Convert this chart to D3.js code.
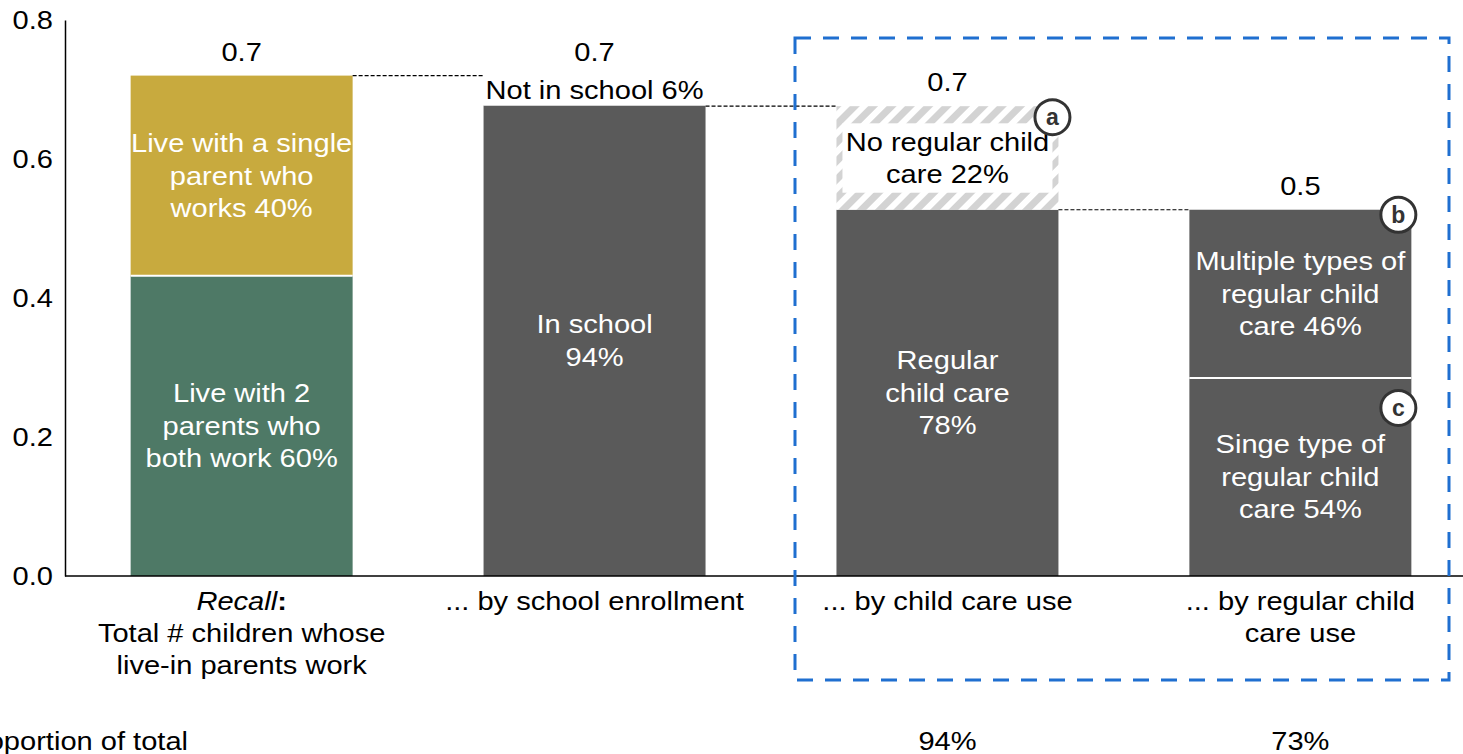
<!DOCTYPE html>
<html>
<head>
<meta charset="utf-8">
<script src="https://cdn.jsdelivr.net/npm/d3@7"></script>
<style>
  html, body { margin: 0; padding: 0; background: #fff; }
  svg { display: block; font-family: "Liberation Sans", Arial, sans-serif; }
</style>
</head>
<body>
<svg id="chart" width="1463" height="754"></svg>
<script>
// Category labels (multi-line) under each bar
const categories = ["recall", "school", "care", "regular"];
const categoryLines = [
  ["<i>Recall</i><b>:</b>", "Total # children whose", "live-in parents work"],
  ["... by school enrollment"],
  ["... by child care use"],
  ["... by regular child", "care use"]
];

// Stacked segment values (bottom segment first)
const bottomValues = [0.432, 0.677, 0.527, 0.285];
const topValues    = [0.288, 0.043, 0.149, 0.242];

// Segment styles: "green", "gold", "gray", "hidden", "hatch"
const bottomKinds = ["green", "gray", "gray", "gray"];
const topKinds    = ["gold", "hidden", "hatch", "gray"];

const bottomLabels = [
  ["Live with 2", "parents who", "both work 60%"],
  ["In school", "94%"],
  ["Regular", "child care", "78%"],
  ["Singe type of", "regular child", "care 54%"]
];
const topLabels = [
  ["Live with a single", "parent who", "works 40%"],
  ["Not in school 6%"],
  ["No regular child", "care 22%"],
  ["Multiple types of", "regular child", "care 46%"]
];

// Proportion-of-total row
const proportionLabels = ["", "", "94%", "73%"];
const yTicks = [0, 0.2, 0.4, 0.6, 0.8];

const colors = { green: "#4e7966", gold: "#c8aa3e", gray: "#5a5a5a" };

const FS = 25.5;      // font size
const SX = 1.14;      // horizontal glyph stretch
const LH = 32.5;      // line height

const svg = d3.select("#chart");
const W = 1463;

const x = d3.scaleBand()
  .domain(categories)
  .range([65, 1477])
  .paddingInner(0.371)
  .paddingOuter(0.186);

const y = d3.scaleLinear().domain([0, 0.8]).range([576, 20]);

// hatch pattern
const defs = svg.append("defs");
const pat = defs.append("pattern")
  .attr("id", "hatch")
  .attr("patternUnits", "userSpaceOnUse")
  .attr("width", 13).attr("height", 13)
  .attr("patternTransform", "rotate(45)");
pat.append("rect").attr("width", 13).attr("height", 13).attr("fill", "#fff");
pat.append("rect").attr("width", 7).attr("height", 13).attr("fill", "#d3d3d3");

const totals = bottomValues.map((v, i) => v + topValues[i]);

// stretched text group anchored at (cx, cy)
function textGroup(parent, cx, cy) {
  return parent.append("g").attr("transform", `translate(${cx},${cy}) scale(${SX},1)`);
}

// multi-line centred text; returns {group, text}
function lines(parent, arr, cx, cy, color, anchor = "middle") {
  const grp = textGroup(parent, cx, cy);
  const n = arr.length;
  const txt = grp.append("text")
    .attr("text-anchor", anchor)
    .attr("font-size", FS)
    .attr("fill", color);
  arr.forEach((s, k) => {
    txt.append("tspan")
      .attr("x", 0)
      .attr("y", (k - (n - 1) / 2) * LH)
      .attr("dy", "0.35em")
      .text(s);
  });
  return { grp, txt };
}

// bars
const g = svg.append("g");
categories.forEach((c, i) => {
  const x0 = x(c), bw = x.bandwidth();
  const b = bottomValues[i], t = topValues[i];
  g.append("rect")
    .attr("x", x0).attr("width", bw)
    .attr("y", y(b)).attr("height", y(0) - y(b))
    .attr("fill", colors[bottomKinds[i]]);
  const tk = topKinds[i];
  if (tk !== "hidden") {
    g.append("rect")
      .attr("x", x0).attr("width", bw)
      .attr("y", y(b + t)).attr("height", y(b) - y(b + t))
      .attr("fill", tk === "hatch" ? "url(#hatch)" : colors[tk]);
    if (tk !== "hatch") {
      g.append("line")
        .attr("x1", x0).attr("x2", x0 + bw)
        .attr("y1", y(b)).attr("y2", y(b))
        .attr("stroke", "#fff").attr("stroke-width", 2);
    }
  }
});

// dashed connectors between consecutive bars
for (let i = 0; i < categories.length - 1; i++) {
  const yy = y(i === 0 ? totals[0] : totals[i + 1]);
  g.append("line")
    .attr("x1", x(categories[i]) + x.bandwidth())
    .attr("x2", x(categories[i + 1]))
    .attr("y1", yy).attr("y2", yy)
    .attr("stroke", "#000").attr("stroke-width", 1.2)
    .attr("stroke-dasharray", "4,2");
}

// segment labels
categories.forEach((c, i) => {
  const cx = x(c) + x.bandwidth() / 2;
  const b = bottomValues[i], t = topValues[i];
  lines(g, bottomLabels[i], cx, (y(0) + y(b)) / 2, "#fff");
  const tk = topKinds[i];
  const cyTop = (y(b) + y(b + t)) / 2;
  if (tk === "hidden" || tk === "hatch") {
    const { grp, txt } = lines(g, topLabels[i], cx, cyTop, "#000");
    const bb = txt.node().getBBox();
    const halfIn = (x.bandwidth() / 2 - (tk === "hatch" ? 6 : 0)) / SX;
    const left = tk === "hatch" ? Math.max(bb.x - 3, -halfIn) : -halfIn;
    const right = tk === "hatch" ? Math.min(bb.x + bb.width + 3, halfIn) : halfIn;
    const top = tk === "hatch" ? bb.y - 4 : bb.y;
    const bottom = tk === "hatch" ? bb.y + bb.height + 4 : y(b) - cyTop;
    grp.insert("rect", "text")
      .attr("x", left).attr("width", right - left)
      .attr("y", top).attr("height", bottom - top)
      .attr("fill", "#fff");
  } else {
    lines(g, topLabels[i], cx, cyTop, "#fff");
  }
  // total value above bar
  lines(g, [d3.format(".1f")(totals[i])], cx, y(totals[i]) - 24, "#000");
});

// axes
const yAxis = d3.axisLeft(y).tickValues(yTicks).tickSize(0).tickPadding(12)
  .tickFormat(d3.format(".1f"));
const ya = svg.append("g").attr("transform", "translate(65,0)").call(yAxis);
ya.select(".domain").attr("stroke", "#000").attr("stroke-width", 1.5);
ya.selectAll(".tick text")
  .attr("font-size", FS).attr("fill", "#000")
  .attr("font-family", "Liberation Sans, Arial, sans-serif")
  .attr("x", -12 / SX)
  .attr("transform", `scale(${SX},1)`);

svg.append("line")
  .attr("x1", 65).attr("x2", W)
  .attr("y1", y(0)).attr("y2", y(0))
  .attr("stroke", "#000").attr("stroke-width", 1.5);

// category labels
categories.forEach((c, i) => {
  const cx = x(c) + x.bandwidth() / 2;
  const grp = textGroup(svg, cx, 601);
  const txt = grp.append("text").attr("text-anchor", "middle")
    .attr("font-size", FS).attr("fill", "#000");
  categoryLines[i].forEach((s, k) => {
    const ts = txt.append("tspan").attr("x", 0).attr("y", k * 32).attr("dy", "0.35em");
    if (s.startsWith("<i>")) {
      ts.append("tspan").attr("font-style", "italic").text("Recall");
      ts.append("tspan").attr("font-weight", "bold").text(":");
    } else {
      ts.text(s);
    }
  });
});

// proportion row
lines(svg, ["Proportion of total"], 188, 741, "#000", "end");
categories.forEach((c, i) => {
  if (!proportionLabels[i]) return;
  lines(svg, [proportionLabels[i]], x(c) + x.bandwidth() / 2, 741, "#000");
});

// highlight box around the child care breakdown
svg.append("rect")
  .attr("x", 795).attr("y", 38)
  .attr("width", 654).attr("height", 642)
  .attr("fill", "none")
  .attr("stroke", "#1f6fd0").attr("stroke-width", 3)
  .attr("stroke-dasharray", "16,12");

// lettered callouts
const callouts = [
  { letter: "a", cat: "care", level: 1, dx: -6, dy: 11 },
  { letter: "b", cat: "regular", level: 1, dx: -13, dy: 5 },
  { letter: "c", cat: "regular", level: 0, dx: -13, dy: 30 }
];
callouts.forEach(o => {
  const i = categories.indexOf(o.cat);
  const lvl = o.level === 1 ? totals[i] : bottomValues[i];
  const cx = x(o.cat) + x.bandwidth() + o.dx;
  const cy = y(lvl) + o.dy;
  svg.append("circle").attr("cx", cx).attr("cy", cy).attr("r", 17.5)
    .attr("fill", "#fff").attr("stroke", "#333").attr("stroke-width", 3);
  svg.append("text").attr("x", cx).attr("y", cy).attr("dy", "0.36em")
    .attr("text-anchor", "middle").attr("font-size", 23).attr("font-weight", "bold")
    .attr("fill", "#333").text(o.letter);
});
</script>
</body>
</html>
